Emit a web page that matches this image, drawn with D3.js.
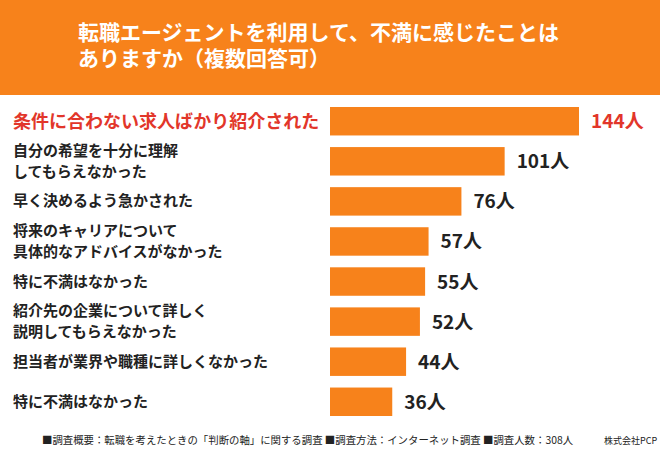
<!DOCTYPE html>
<html><head><meta charset="utf-8">
<script src="https://cdn.jsdelivr.net/npm/d3@7"></script>
<style>body{margin:0;background:#fff}svg{display:block;font-family:"Noto Sans CJK JP",sans-serif}</style>
</head><body><svg id="chart" width="660" height="450"></svg>
<script>
var labels = [
  ["条件に合わない求人ばかり紹介された"],
  ["自分の希望を十分に理解", "してもらえなかった"],
  ["早く決めるよう急かされた"],
  ["将来のキャリアについて", "具体的なアドバイスがなかった"],
  ["特に不満はなかった"],
  ["紹介先の企業について詳しく", "説明してもらえなかった"],
  ["担当者が業界や職種に詳しくなかった"],
  ["特に不満はなかった"]
];
var values = [144, 101, 76, 57, 55, 52, 44, 36];
var titleLines = ["転職エージェントを利用して、不満に感じたことは", "ありますか（複数回答可）"];
var footnote = "■調査概要：転職を考えたときの「判断の軸」に関する調査 ■調査方法：インターネット調査 ■調査人数：308人";

var svg = d3.select("#chart");
var orange = "#f7821b";

svg.append("rect").attr("x", 0).attr("y", 0).attr("width", 660).attr("height", 95).attr("fill", orange);
svg.append("g").selectAll("text").data(titleLines).join("text")
  .attr("x", 78).attr("y", function(d, i) { return 40 + i * 26; })
  .attr("fill", "#fff").attr("font-size", 21).attr("font-weight", "bold").text(function(d) { return d; });

var x = d3.scaleLinear().domain([0, 144]).range([330, 579]);
var y = d3.scaleBand().domain(d3.range(values.length)).range([103, 420]).paddingInner(0.29).paddingOuter(0.1);

var rows = svg.append("g").selectAll("g").data(values).join("g");
rows.append("rect")
  .attr("x", x(0)).attr("y", function(d, i) { return y(i); })
  .attr("width", function(d) { return x(d) - x(0); }).attr("height", y.bandwidth())
  .attr("fill", orange);
rows.append("text")
  .attr("x", function(d) { return x(d) + 12; })
  .attr("y", function(d, i) { return y(i) + y.bandwidth() / 2 + 7; })
  .attr("font-size", 19).attr("font-weight", "bold")
  .attr("fill", function(d, i) { return i === 0 ? "#e2362a" : "#222"; })
  .text(function(d) { return d + "人"; });
rows.each(function(d, i) {
  var lines = labels[i];
  var first = i === 0;
  var cy = y(i) + y.bandwidth() / 2;
  d3.select(this).selectAll("text.lab").data(lines).join("text").attr("class", "lab")
    .attr("x", 13)
    .attr("y", function(l, j) { return cy + (j - (lines.length - 1) / 2) * 21 + (first ? 7 : 5); })
    .attr("font-size", first ? 18 : 15).attr("font-weight", "bold")
    .attr("fill", first ? "#e2362a" : "#222")
    .text(function(l) { return l; });
});

svg.append("text").attr("x", 42).attr("y", 444).attr("font-size", 10.4).attr("fill", "#222").text(footnote);
svg.append("text").attr("x", 604).attr("y", 444).attr("font-size", 9).attr("fill", "#222").text("株式会社PCP");
</script></body></html>
